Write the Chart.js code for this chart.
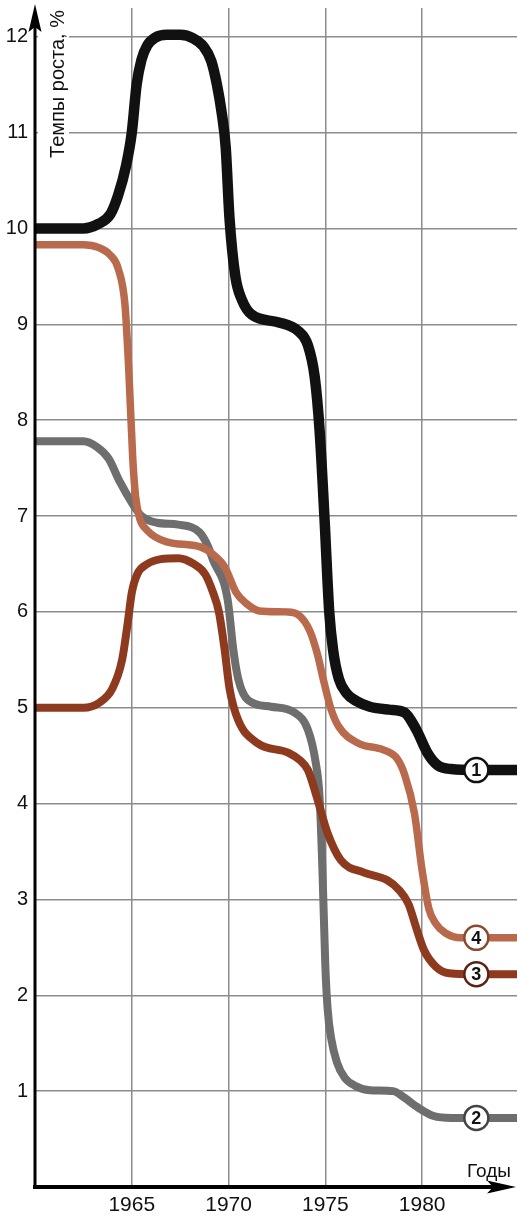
<!DOCTYPE html>
<html>
<head>
<meta charset="utf-8">
<script src="https://cdn.jsdelivr.net/npm/chart.js@4"></script>
<style>
  html, body { margin: 0; padding: 0; background: #fff; }
  #wrap { width: 517px; height: 1217px; position: relative; }
</style>
</head>
<body>
<div id="wrap"><canvas id="growthChart"></canvas></div>
<script>
// values (year, growth rate %)
const years1 = [1960, 1962.5, 1963.3, 1963.9, 1964.3, 1964.7, 1965.0, 1965.25, 1965.5, 1965.8, 1966.2, 1966.8, 1967.5, 1968.2, 1968.7, 1969.1, 1969.4, 1969.65, 1969.85, 1970.05, 1970.35, 1970.7, 1971.2, 1972.6, 1973.6, 1974.1, 1974.45, 1974.7, 1974.95, 1975.2, 1975.4, 1975.7, 1976.1, 1976.6, 1977.3, 1978.3, 1979.1, 1979.7, 1980.3, 1980.8, 1981.5, 1982.8, 1984.9];
const values1 = [10, 10, 10.05, 10.15, 10.35, 10.65, 11.0, 11.5, 11.76, 11.91, 11.99, 12.02, 12.02, 11.98, 11.9, 11.75, 11.5, 11.2, 10.85, 10.1, 9.5, 9.25, 9.1, 9.02, 8.93, 8.78, 8.45, 7.9, 7.0, 6.0, 5.6, 5.3, 5.15, 5.07, 5.01, 4.98, 4.95, 4.77, 4.52, 4.4, 4.36, 4.35, 4.35];

const years2 = [1960, 1962.5, 1963.2, 1963.8, 1964.4, 1965.0, 1965.5, 1966.3, 1967.4, 1968.5, 1968.9, 1969.2, 1969.95, 1970.25, 1970.5, 1971.0, 1972.2, 1973.4, 1974.1, 1974.5, 1974.7, 1974.85, 1975.0, 1975.12, 1975.3, 1975.6, 1976.0, 1976.5, 1977.3, 1978.5, 1979.1, 1979.7, 1980.6, 1981.5, 1982.8, 1984.9];
const values2 = [7.78, 7.78, 7.72, 7.6, 7.35, 7.14, 7.0, 6.93, 6.91, 6.83, 6.7, 6.54, 6.13, 5.6, 5.3, 5.08, 5.01, 4.95, 4.77, 4.43, 4.07, 3.3, 2.3, 1.85, 1.55, 1.3, 1.14, 1.06, 1.01, 1.0, 0.93, 0.84, 0.74, 0.72, 0.72, 0.72];

const years3 = [1960, 1962.5, 1963.3, 1964.0, 1964.5, 1964.8, 1965.0, 1965.3, 1965.8, 1966.5, 1967.4, 1968.2, 1968.8, 1969.2, 1969.5, 1969.8, 1970.05, 1970.5, 1971.5, 1973.1, 1973.7, 1974.1, 1974.6, 1975.1, 1975.8, 1977.0, 1978.2, 1978.8, 1979.3, 1979.7, 1980.1, 1980.7, 1981.4, 1982.8, 1984.9];
const values3 = [5.0, 5.0, 5.05, 5.2, 5.5, 5.9, 6.2, 6.4, 6.5, 6.55, 6.56, 6.5, 6.39, 6.2, 6.0, 5.6, 5.2, 4.87, 4.63, 4.53, 4.45, 4.35, 4.04, 3.7, 3.41, 3.28, 3.2, 3.1, 2.95, 2.7, 2.47, 2.3, 2.23, 2.22, 2.22];

const years4 = [1960, 1962.5, 1963.3, 1963.9, 1964.3, 1964.65, 1964.85, 1965.05, 1965.2, 1965.4, 1965.8, 1966.8, 1968.5, 1969.2, 1969.8, 1970.4, 1970.9, 1971.6, 1973.0, 1973.6, 1974.2, 1974.6, 1974.9, 1975.3, 1975.7, 1976.7, 1978.0, 1978.7, 1979.1, 1979.6, 1980.0, 1980.35, 1980.7, 1981.2, 1982.0, 1982.8, 1984.9];
const values4 = [9.83, 9.83, 9.8, 9.72, 9.58, 9.2, 8.5, 7.6, 7.2, 6.98, 6.85, 6.73, 6.68, 6.6, 6.47, 6.2, 6.09, 6.01, 6.0, 5.97, 5.8, 5.55, 5.29, 4.98, 4.8, 4.63, 4.56, 4.47, 4.3, 3.9, 3.3, 2.9, 2.75, 2.65, 2.6, 2.6, 2.6];

const xTicks = [1965, 1970, 1975, 1980];
const yTicks = [1, 2, 3, 4, 5, 6, 7, 8, 9, 10, 11, 12];
const markerYear = 1982.8;
const yTitle = "Темпы роста, %";
const xTitle = "Годы";

function toPoints(xs, ys) {
    return xs.map((x, i) => ({ x: x, y: ys[i] }));
}

const FONT = "'Liberation Sans', Arial, sans-serif";

// numbered circles sitting on each line
const markerPlugin = {
    id: "markers",
    afterDatasetsDraw(chart) {
        const ctx = chart.ctx;
        chart.data.datasets.forEach((ds, i) => {
            const meta = chart.getDatasetMeta(i);
            const idx = ds.data.findIndex(p => p.x === markerYear);
            if (idx < 0) return;
            const pt = meta.data[idx];
            ctx.save();
            ctx.beginPath();
            ctx.arc(pt.x, pt.y, 12, 0, Math.PI * 2);
            ctx.fillStyle = "#fff";
            ctx.fill();
            ctx.lineWidth = 2.5;
            ctx.strokeStyle = ds.markerEdge;
            ctx.stroke();
            ctx.fillStyle = "#111";
            ctx.font = "bold 18px " + FONT;
            ctx.textAlign = "center";
            ctx.textBaseline = "middle";
            ctx.fillText(ds.label, pt.x, pt.y + 1);
            ctx.restore();
        });
    }
};

// axis title on white so it breaks the grid, then both axes with arrows
const axesPlugin = {
    id: "axesArrows",
    beforeDatasetsDraw(chart) {
        const ctx = chart.ctx;
        ctx.save();
        ctx.fillStyle = "#fff";
        ctx.fillRect(38, 0, 31, 165);
        ctx.translate(58, 84);
        ctx.rotate(-Math.PI / 2);
        ctx.fillStyle = "#111";
        ctx.font = "20px " + FONT;
        ctx.textAlign = "center";
        ctx.textBaseline = "middle";
        ctx.fillText(yTitle, 0, 0);
        ctx.restore();
    },
    afterDraw(chart) {
        const ctx = chart.ctx;
        const area = chart.chartArea;
        const x0 = area.left, y0 = area.bottom;
        ctx.save();
        ctx.strokeStyle = "#000";
        ctx.fillStyle = "#000";
        // y axis
        ctx.lineWidth = 3;
        ctx.beginPath();
        ctx.moveTo(x0, y0 + 2);
        ctx.lineTo(x0, 24);
        ctx.stroke();
        ctx.beginPath();
        ctx.moveTo(x0, 4);
        ctx.lineTo(x0 + 6.5, 32);
        ctx.lineTo(x0, 27);
        ctx.lineTo(x0 - 6.5, 32);
        ctx.closePath();
        ctx.fill();
        // x axis
        ctx.lineWidth = 4;
        ctx.beginPath();
        ctx.moveTo(x0 - 2, y0);
        ctx.lineTo(495, y0);
        ctx.stroke();
        ctx.beginPath();
        ctx.moveTo(516, y0);
        ctx.lineTo(487, y0 - 6.5);
        ctx.lineTo(493, y0);
        ctx.lineTo(487, y0 + 6.5);
        ctx.closePath();
        ctx.fill();
        // x title
        ctx.font = "19px " + FONT;
        ctx.textAlign = "center";
        ctx.textBaseline = "middle";
        ctx.fillStyle = "#111";
        ctx.fillText(xTitle, 489, y0 - 15);
        ctx.restore();
    }
};

const lineStyle = {
    fill: false,
    pointRadius: 0,
    cubicInterpolationMode: "monotone",
    borderCapStyle: "round",
    borderJoinStyle: "round"
};

new Chart(document.getElementById("growthChart"), {
    type: "line",
    data: {
        datasets: [
            Object.assign({ label: "1", data: toPoints(years1, values1), borderColor: "#111111", borderWidth: 10.5, markerEdge: "#111", order: 1 }, lineStyle),
            Object.assign({ label: "4", data: toPoints(years4, values4), borderColor: "#b96a4c", borderWidth: 7.5, markerEdge: "#8a4a30", order: 2 }, lineStyle),
            Object.assign({ label: "3", data: toPoints(years3, values3), borderColor: "#8e3a1f", borderWidth: 8, markerEdge: "#5a2412", order: 3 }, lineStyle),
            Object.assign({ label: "2", data: toPoints(years2, values2), borderColor: "#6e6e6e", borderWidth: 8, markerEdge: "#444", order: 4 }, lineStyle)
        ]
    },
    options: {
        responsive: true,
        maintainAspectRatio: false,
        animation: false,
        layout: { padding: { top: 8, right: 0, left: 0, bottom: 0 } },
        plugins: {
            legend: { display: false },
            tooltip: { enabled: false }
        },
        scales: {
            x: {
                type: "linear",
                min: 1960,
                max: 1984.9,
                afterFit: s => { s.height = 30; s.paddingLeft = 0; s.paddingRight = 0; },
                afterBuildTicks: s => { s.ticks = xTicks.map(v => ({ value: v })); },
                ticks: {
                    color: "#111",
                    font: { family: FONT, size: 21 },
                    padding: 6,
                    maxRotation: 0,
                    autoSkip: false,
                    callback: v => String(v)
                },
                grid: { color: "#8c8c8c", lineWidth: 1.5, drawTicks: false },
                border: { display: false }
            },
            y: {
                type: "linear",
                min: 0,
                max: 12.3,
                afterFit: s => { s.width = 35; s.paddingTop = 0; s.paddingBottom = 0; },
                afterBuildTicks: s => { s.ticks = yTicks.map(v => ({ value: v })); },
                ticks: {
                    color: "#111",
                    font: { family: FONT, size: 20 },
                    padding: 7,
                    autoSkip: false,
                    callback: v => String(v)
                },
                grid: { color: "#8c8c8c", lineWidth: 1.5, drawTicks: false },
                border: { display: false }
            }
        }
    },
    plugins: [markerPlugin, axesPlugin]
});
</script>
</body>
</html>
